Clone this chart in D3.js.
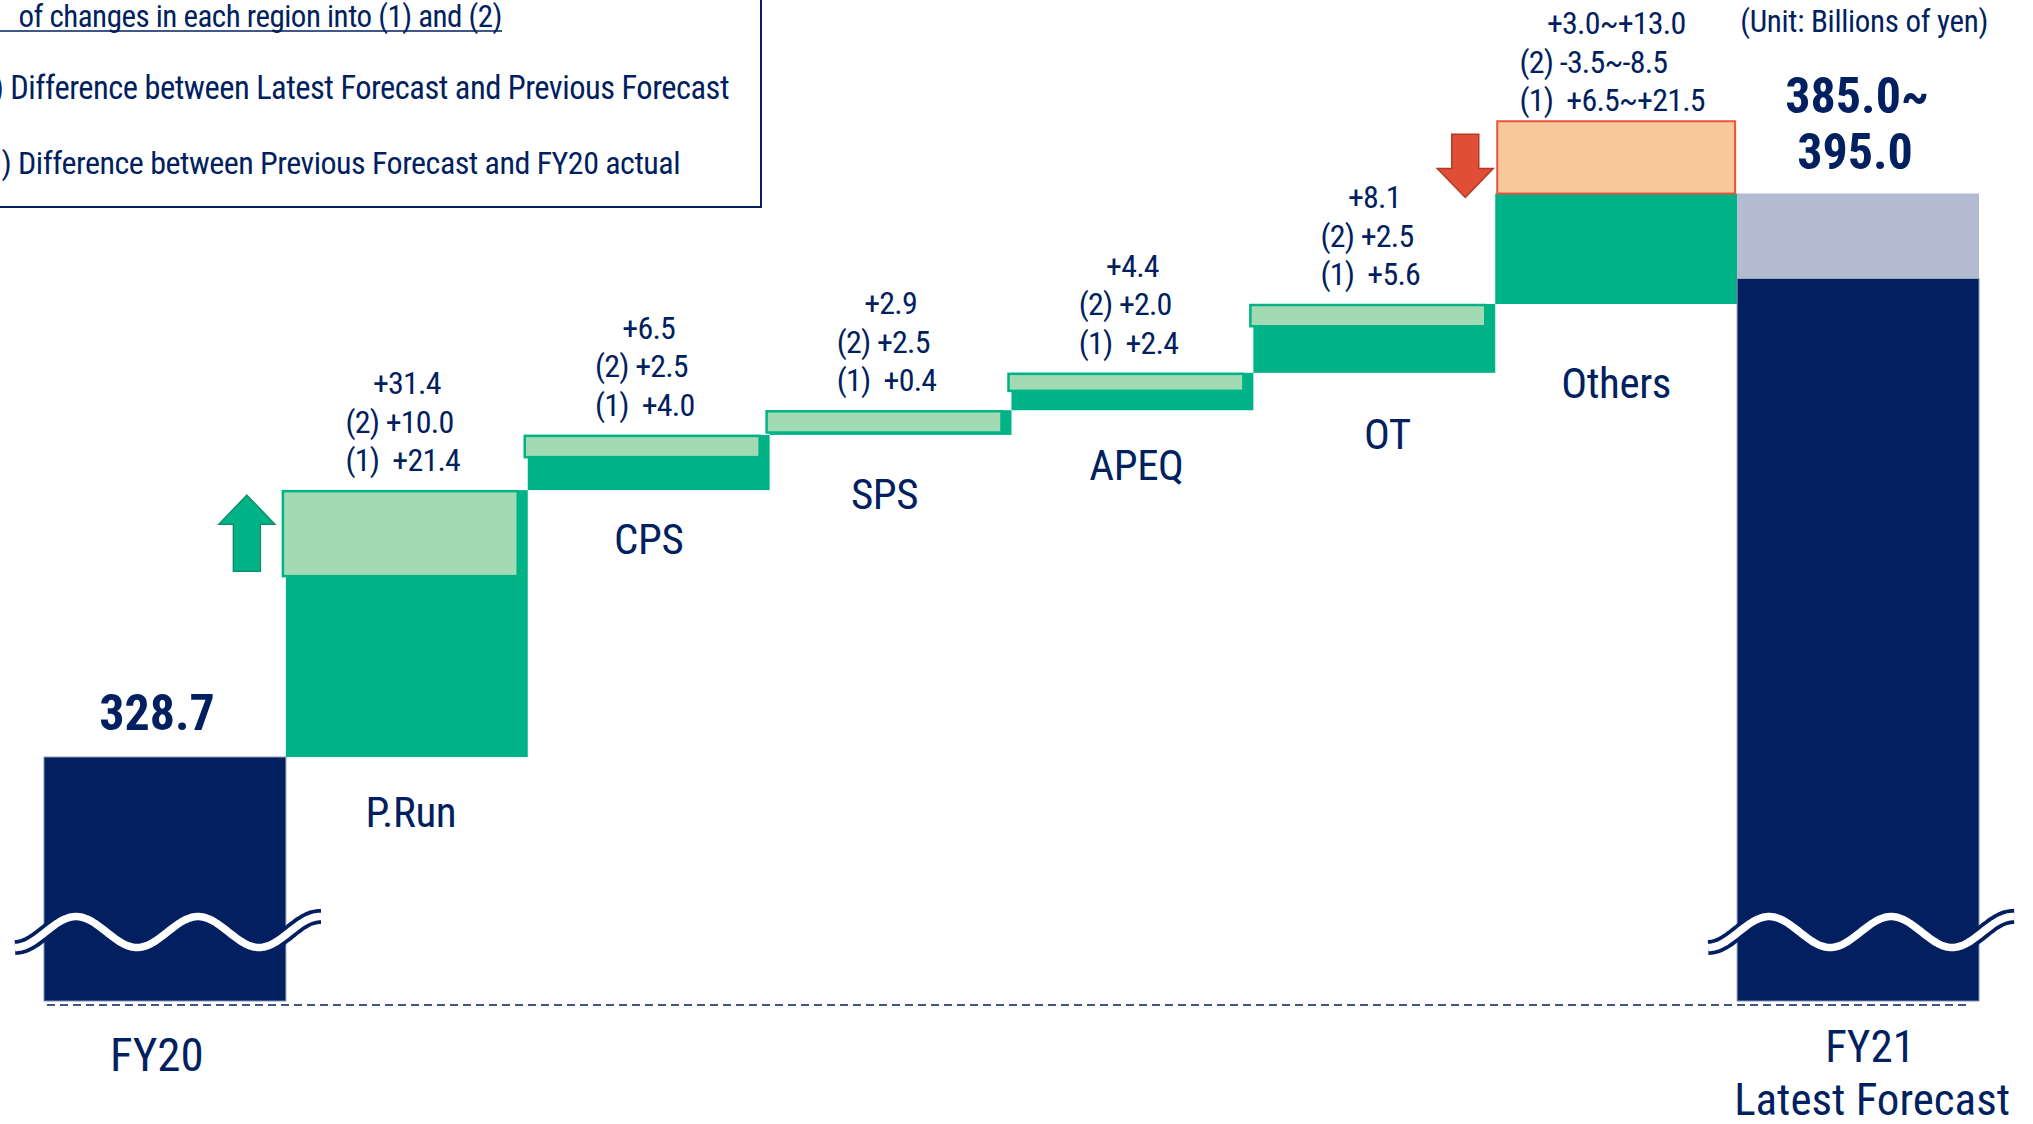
<!DOCTYPE html>
<html>
<head>
<meta charset="utf-8">
<script src="https://cdn.jsdelivr.net/npm/d3@7"></script>
<style>
  html, body { margin: 0; padding: 0; background: #ffffff; }
  svg { display: block; }
  text { white-space: pre; }
</style>
</head>
<body>
<div id="chart"></div>
<script>
// ---- data (billions of yen) ----
const categories = ["FY20", "P.Run", "CPS", "SPS", "APEQ", "OT", "Others", "FY21"];
const fy20Actual = 328.7;
const regions = ["P.Run", "CPS", "SPS", "APEQ", "OT"];
const changeTotal = [31.4, 6.5, 2.9, 4.4, 8.1];
const change1 = [21.4, 4.0, 0.4, 2.4, 5.6];   // (1) previous forecast vs FY20 actual
const change2 = [10.0, 2.5, 2.5, 2.0, 2.5];   // (2) latest vs previous forecast
const othersTotal = [3.0, 13.0];
const others1 = [6.5, 21.5];
const others2 = [-3.5, -8.5];
const fy21Forecast = [385.0, 395.0];
const legendLines = [
  " of changes in each region into (1) and (2)",
  "(2) Difference between Latest Forecast and Previous Forecast",
  "(1) Difference between Previous Forecast and FY20 actual"
];
const unitLabel = "(Unit: Billions of yen)";

// ---- layout / style ----
const W = 2033, H = 1124;
const NAVY = "#021f60", GREEN = "#00b386", LIGHT_GREEN = "#a2dab3",
      GREY_BLUE = "#b2bbd0", ORANGE = "#f9c89b", RED = "#e8553c";
const FONT = "'Liberation Sans Narrow', 'Roboto Condensed', Roboto, sans-serif";

const svg = d3.select("#chart").append("svg")
  .attr("width", W).attr("height", H)
  .style("font-family", FONT);

const x = d3.scaleBand().domain(categories).range([44, 1979]).padding(0);
const axisFloor = 300;
const y = d3.scaleLinear().domain([axisFloor, 400]).range([1001, 151]);
const bw = x.bandwidth();
const fmt = v => (v >= 0 ? "+" : "-") + Math.abs(v).toFixed(1);

// cumulative levels through the region steps
const levels = [fy20Actual];
changeTotal.forEach(d => levels.push(+(levels[levels.length - 1] + d).toFixed(1)));
const beforeOthers = levels[levels.length - 1];

// ---- legend box (runs off the top-left corner) ----
const lg = svg.append("g");
lg.append("rect").attr("x", -20).attr("y", -20).attr("width", 781).attr("height", 227)
  .attr("fill", "none").attr("stroke", NAVY).attr("stroke-width", 2);
const legendEnds = [502, 729, 680], legendBase = [27, 99, 174], legendSize = [31, 32.5, 32];
legendLines.forEach((t, i) => {
  lg.append("text").attr("x", legendEnds[i]).attr("y", legendBase[i])
    .attr("text-anchor", "end").attr("font-size", legendSize[i])
    .attr("letter-spacing", -0.5).attr("fill", NAVY).text(t);
});
lg.append("line").attr("x1", 0).attr("x2", 502).attr("y1", 31).attr("y2", 31)
  .attr("stroke", NAVY).attr("stroke-width", 1.5);

// unit note
svg.append("text").attr("x", 1988).attr("y", 32).attr("text-anchor", "end")
  .attr("font-size", 31).attr("letter-spacing", -0.3).attr("fill", NAVY).text(unitLabel);

// ---- baseline ----
svg.append("line").attr("x1", 47).attr("x2", 1969).attr("y1", 1005).attr("y2", 1005)
  .attr("stroke", NAVY).attr("stroke-width", 1.6).attr("stroke-dasharray", "8,5");

// ---- FY20 bar ----
svg.append("rect").attr("x", x("FY20")).attr("y", y(fy20Actual))
  .attr("width", bw).attr("height", y(axisFloor) - y(fy20Actual))
  .attr("fill", NAVY).attr("stroke", "#7f8db3").attr("stroke-width", 1);

// ---- region steps ----
regions.forEach((r, i) => {
  const lo = levels[i], hi = levels[i + 1];
  const x0 = x(r);
  svg.append("rect").attr("x", x0).attr("y", y(hi)).attr("width", bw)
    .attr("height", y(lo) - y(hi)).attr("fill", GREEN);
  // (2) portion on top of the step
  svg.append("rect").attr("x", x0 - 3).attr("y", y(hi) + 1)
    .attr("width", bw - 7).attr("height", y(hi - change2[i]) - y(hi))
    .attr("fill", LIGHT_GREEN).attr("stroke", GREEN).attr("stroke-width", 2.5);
});

// ---- Others: net range in green, negative (2) part in orange ----
const othersHi = beforeOthers + othersTotal[1];
const othersTop = beforeOthers + others1[1];
svg.append("rect").attr("x", x("Others")).attr("y", y(othersHi)).attr("width", bw)
  .attr("height", y(beforeOthers) - y(othersHi)).attr("fill", GREEN);
svg.append("rect").attr("x", x("Others") + 2).attr("y", y(othersTop))
  .attr("width", bw - 4).attr("height", y(othersHi) - y(othersTop))
  .attr("fill", ORANGE).attr("stroke", RED).attr("stroke-width", 2);

// ---- FY21 forecast bar ----
svg.append("rect").attr("x", x("FY21")).attr("y", y(fy21Forecast[0]))
  .attr("width", bw).attr("height", y(axisFloor) - y(fy21Forecast[0]))
  .attr("fill", NAVY).attr("stroke", "#7f8db3").attr("stroke-width", 1);
svg.append("rect").attr("x", x("FY21")).attr("y", y(fy21Forecast[1]))
  .attr("width", bw).attr("height", y(fy21Forecast[0]) - y(fy21Forecast[1]))
  .attr("fill", GREY_BLUE);

// ---- axis break waves ----
function wave(x0) {
  const pts = d3.range(0, 307, 2).map(dx => [x0 - 29 + dx, 932 + 15.5 * Math.cos(2 * Math.PI * dx / 122)]);
  const path = d3.line().curve(d3.curveBasis)(pts);
  svg.append("path").attr("d", path).attr("fill", "none").attr("stroke", NAVY).attr("stroke-width", 15);
  svg.append("path").attr("d", path).attr("fill", "none").attr("stroke", "#ffffff").attr("stroke-width", 7.5);
}
wave(x("FY20"));
wave(x("FY21"));

// ---- arrows ----
function arrow(cx, yTip, yTail, color, edge) {
  const dir = yTail > yTip ? 1 : -1;       // 1: pointing up, -1: pointing down
  const headLen = 29, halfHead = 28, halfShaft = 13.5;
  const yBase = yTip + dir * headLen;
  const pts = [[cx, yTip], [cx + halfHead, yBase], [cx + halfShaft, yBase], [cx + halfShaft, yTail],
               [cx - halfShaft, yTail], [cx - halfShaft, yBase], [cx - halfHead, yBase]];
  svg.append("path").attr("d", d3.line()(pts) + "Z").attr("fill", color)
    .attr("stroke", edge).attr("stroke-width", 1.5).attr("stroke-linejoin", "miter");
}
arrow(x("P.Run") - 39, y(levels[1]) + 5, y(levels[1]) + 81, GREEN, "#12906c");
arrow(x("Others") - 30, y(othersHi) + 4, y(othersTop) + 13, "#e04e37", "#b23a26");

// ---- value labels ----
const lineGap = 38.5;
function valueBlock(cx, topY, total, l2, l1) {
  const b3 = topY - 19, b2 = b3 - lineGap, b1 = b2 - lineGap;
  const t0 = svg.append("text").attr("x", cx).attr("y", b1).attr("text-anchor", "middle").text(total);
  const t2 = svg.append("text").attr("y", b2).text(l2);
  const t1 = svg.append("text").attr("y", b3).text(l1);
  [t0, t2, t1].forEach(t => t.attr("font-size", 32).attr("letter-spacing", -0.8).attr("fill", NAVY));
  const w = Math.max(t2.node().getComputedTextLength(), t1.node().getComputedTextLength());
  t2.attr("x", cx - w / 2 - 4);
  t1.attr("x", cx - w / 2 - 4);
}
regions.forEach((r, i) => {
  valueBlock(x(r) + bw / 2, y(levels[i + 1]), fmt(changeTotal[i]),
    "(2) " + fmt(change2[i]), "(1)  " + fmt(change1[i]));
});
valueBlock(x("Others") + bw / 2, y(othersTop) + 9,
  fmt(othersTotal[0]) + "~" + fmt(othersTotal[1]),
  "(2) " + fmt(others2[0]) + "~" + fmt(others2[1]),
  "(1)  " + fmt(others1[0]) + "~" + fmt(others1[1]));

// ---- region names under each step ----
const labelDrop = { "P.Run": [4, 70], "CPS": [0, 64], "SPS": [-6, 74], "APEQ": [4, 70], "OT": [13, 76], "Others": [0, 94] };
regions.concat(["Others"]).forEach((r, i) => {
  svg.append("text").attr("x", x(r) + bw / 2 + labelDrop[r][0]).attr("y", y(levels[i]) + labelDrop[r][1])
    .attr("text-anchor", "middle").attr("font-size", 43).attr("letter-spacing", -0.4)
    .attr("fill", NAVY).text(r);
});

// ---- totals ----
svg.append("text").attr("x", x("FY20") + bw / 2 - 8).attr("y", 730).attr("text-anchor", "middle")
  .attr("font-size", 50).attr("font-weight", "bold").attr("fill", NAVY).text(fy20Actual.toFixed(1));
svg.append("text").attr("x", x("FY21") + bw / 2 - 1).attr("y", 113).attr("text-anchor", "middle")
  .attr("font-size", 50).attr("font-weight", "bold").attr("fill", NAVY).text(fy21Forecast[0].toFixed(1) + "~");
svg.append("text").attr("x", x("FY21") + bw / 2 - 3).attr("y", 169).attr("text-anchor", "middle")
  .attr("font-size", 50).attr("font-weight", "bold").attr("fill", NAVY).text(fy21Forecast[1].toFixed(1));

// ---- period labels ----
svg.append("text").attr("x", x("FY20") + bw / 2 - 8).attr("y", 1071).attr("text-anchor", "middle")
  .attr("font-size", 47).attr("fill", NAVY).text("FY20");
svg.append("text").attr("x", x("FY21") + bw / 2 + 12).attr("y", 1062).attr("text-anchor", "middle")
  .attr("font-size", 45).attr("fill", NAVY).text("FY21");
svg.append("text").attr("x", x("FY21") + bw / 2 + 14).attr("y", 1115).attr("text-anchor", "middle")
  .attr("font-size", 45).attr("fill", NAVY).text("Latest Forecast");
</script>
</body>
</html>
